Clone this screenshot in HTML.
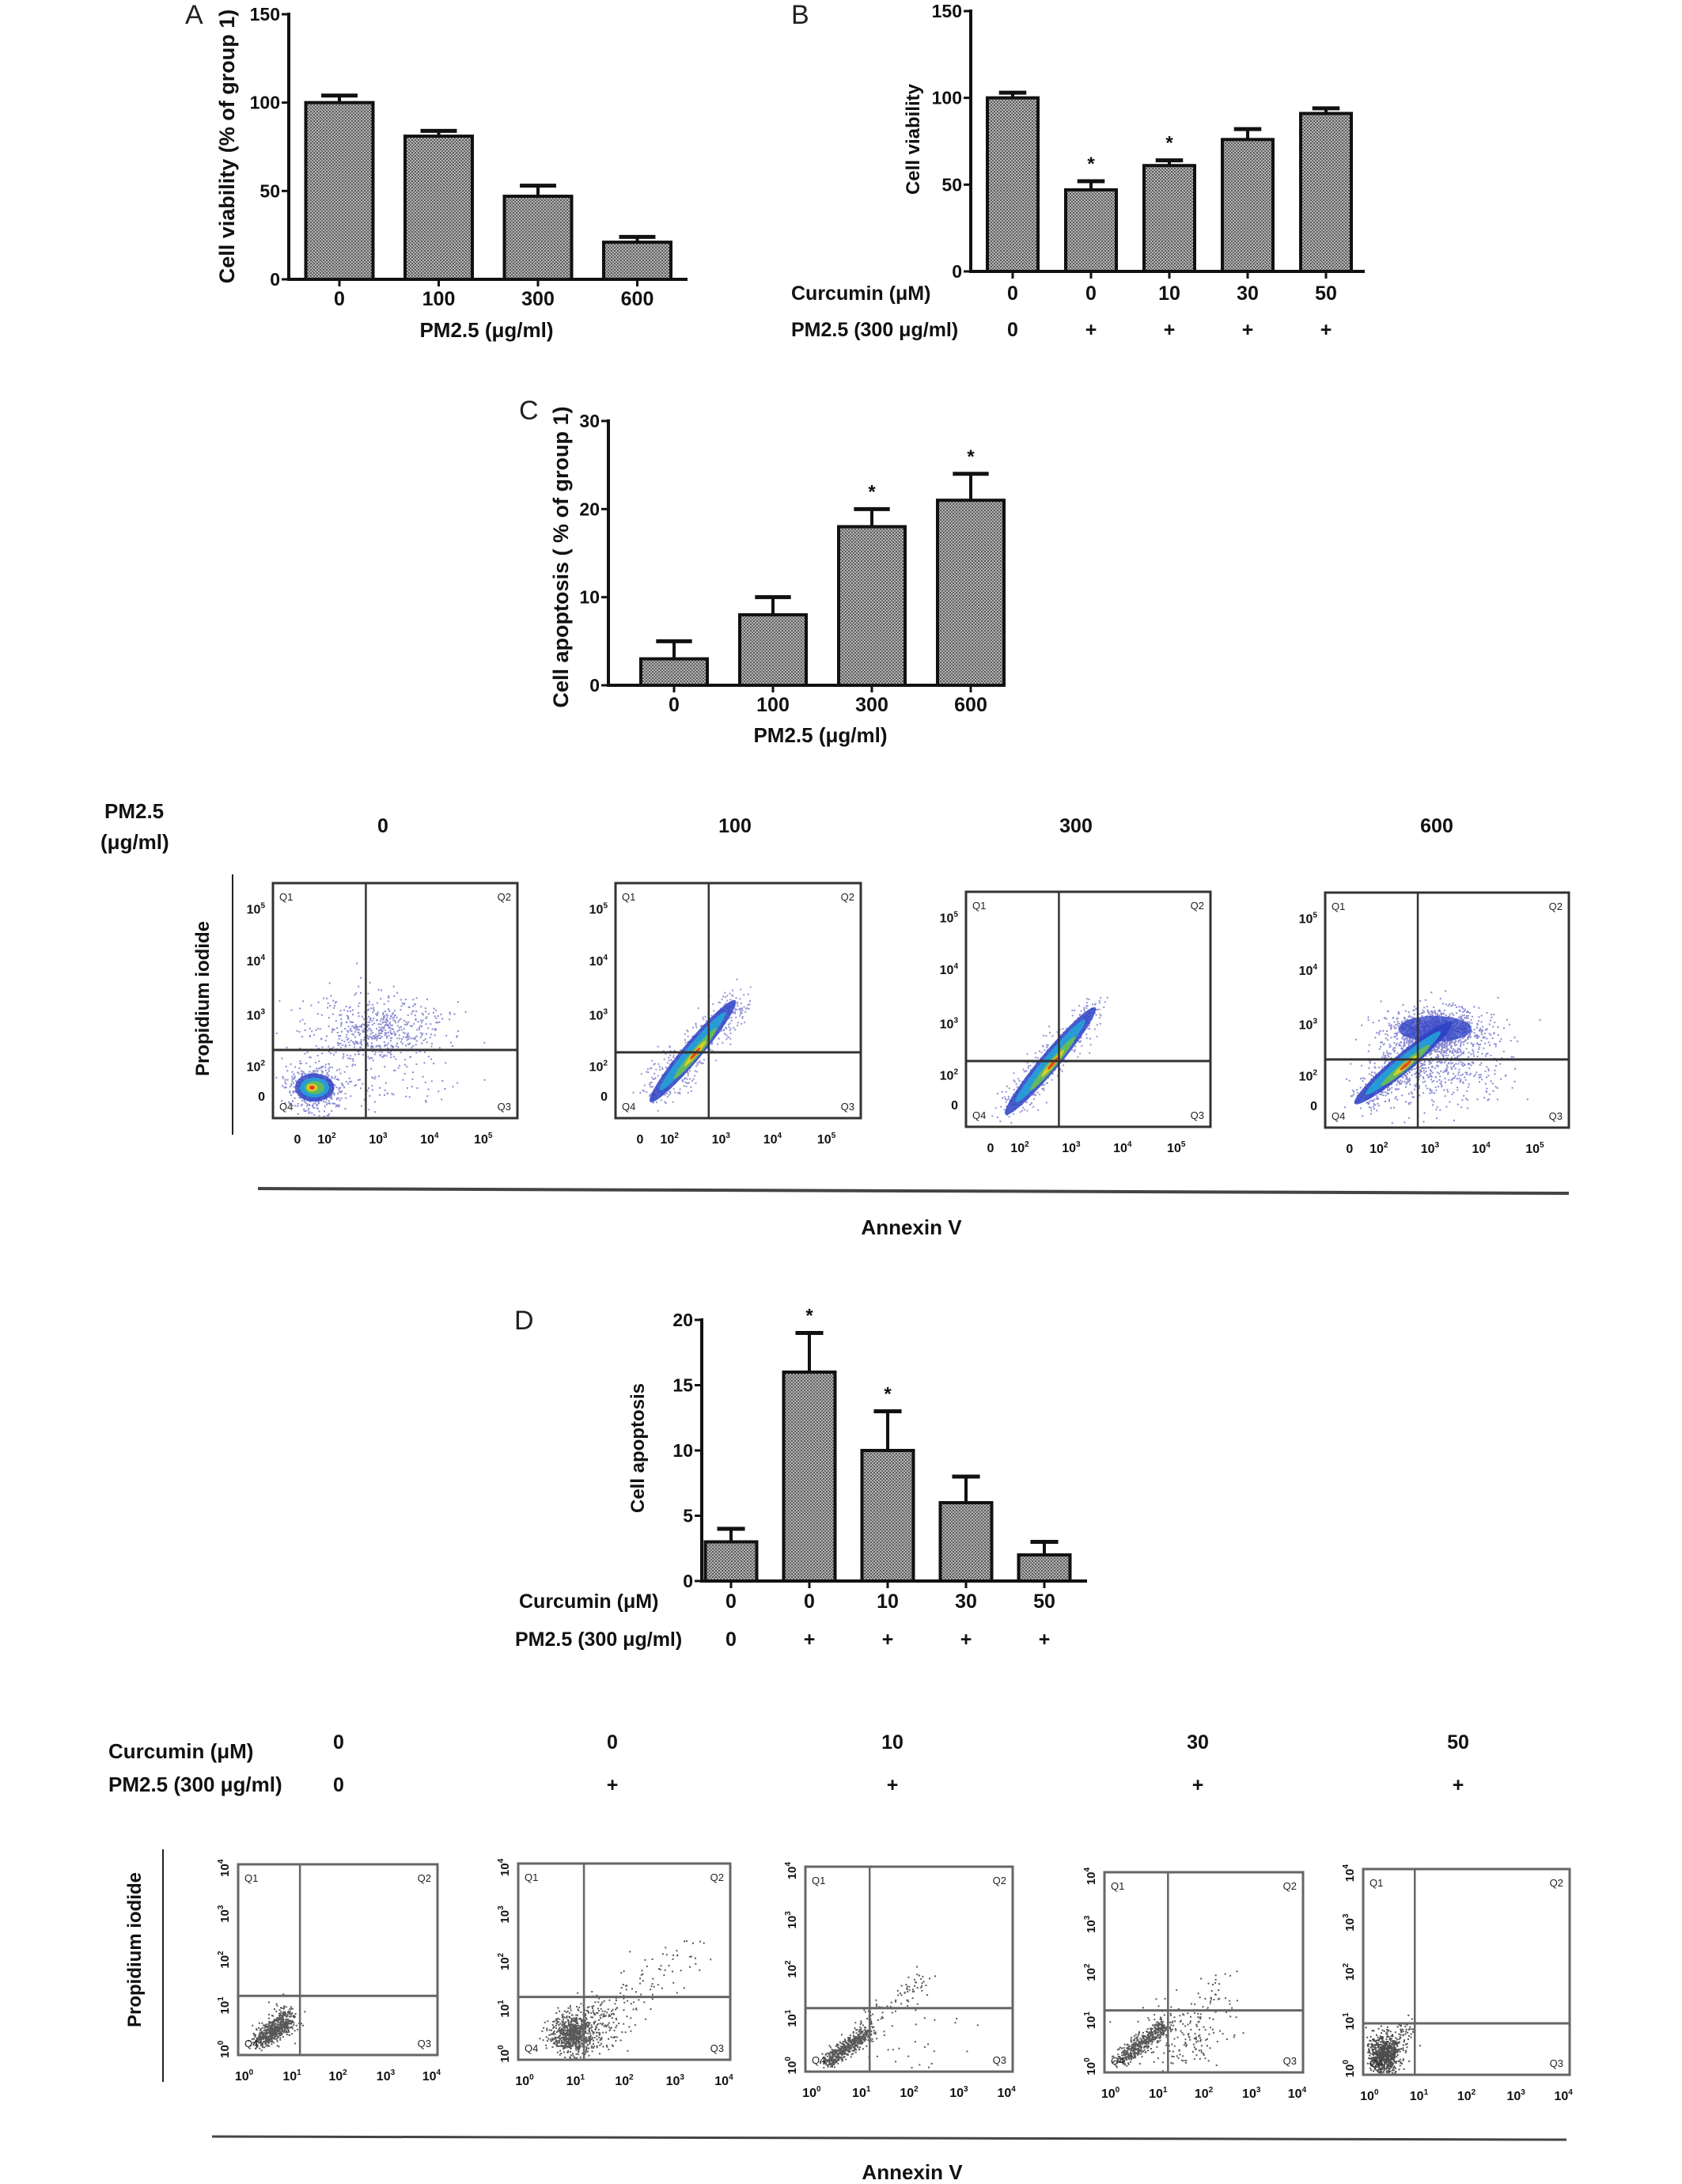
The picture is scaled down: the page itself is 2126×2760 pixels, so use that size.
<!DOCTYPE html>
<html><head><meta charset="utf-8">
<style>
html,body{margin:0;padding:0;background:#fff;}
svg{display:block;}
text{font-family:"Liberation Sans Narrow","Liberation Sans",sans-serif;font-weight:bold;fill:#111;}
.wide{font-family:"Liberation Sans",sans-serif;}
.lt{font-family:"Liberation Sans",sans-serif;font-weight:normal;fill:#222;}
</style></head>
<body>
<svg id="fig" width="2126" height="2760" viewBox="0 0 2126 2760" xmlns="http://www.w3.org/2000/svg">
<defs>
<pattern id="dots" width="4" height="4" patternUnits="userSpaceOnUse">
<rect width="4" height="4" fill="#b4b4b4"/>
<rect width="2" height="2" fill="#5a5a5a"/>
<rect x="2" y="2" width="2" height="2" fill="#6a6a6a"/>
</pattern>
</defs>
<g id="root"></g>
</svg>
<script>
// ---------- Chart data ----------
var aCategories = ["0","100","300","600"];
var aValues = [100, 81, 47, 21];
var aErrors = [4, 3, 6, 3];
var aStars = [false,false,false,false];
var aTicks = [0,50,100,150];

var bCurcumin = ["0","0","10","30","50"];
var bPM = ["0","+","+","+","+"];
var bValues = [100, 47, 61, 76, 91];
var bErrors = [3, 5, 3, 6, 3];
var bStars = [false,true,true,false,false];
var bTicks = [0,50,100,150];

var cCategories = ["0","100","300","600"];
var cValues = [3, 8, 18, 21];
var cErrors = [2, 2, 2, 3];
var cStars = [false,false,true,true];
var cTicks = [0,10,20,30];

var dCurcumin = ["0","0","10","30","50"];
var dPM = ["0","+","+","+","+"];
var dValues = [3, 16, 10, 6, 2];
var dErrors = [1, 3, 3, 2, 1];
var dStars = [false,true,true,false,false];
var dTicks = [0,5,10,15,20];

var flowDoses = ["0","100","300","600"];
var flow2Curcumin = ["0","0","10","30","50"];
var flow2PM = ["0","+","+","+","+"];

var NS = "http://www.w3.org/2000/svg";
var root = document.getElementById('root');
function el(tag, attrs, parent, txt){
  var e = document.createElementNS(NS, tag);
  for (var k in attrs) e.setAttribute(k, attrs[k]);
  if (txt !== undefined) e.textContent = txt;
  (parent||root).appendChild(e);
  return e;
}

function barChart(cfg){
  var g = el('g', {});
  
  
  var ymax = cfg.ticks[cfg.ticks.length-1];
  function Y(v){ return cfg.y0 - (cfg.y0 - cfg.yTop) * v / ymax; }
  for (var i=0;i<cfg.values.length;i++){
    var cx = cfg.x0 + cfg.firstOff + i*cfg.step;
    var top = Y(cfg.values[i]);
    var et = Y(cfg.values[i] + cfg.errors[i]);
    var ln = el('line', {x1:cx,y1:top,x2:cx,y2:et,stroke:'#111','stroke-width':4}, g);
    
    
    var cap = el('line', {x1:cx-cfg.bw*0.27,y1:et,x2:cx+cfg.bw*0.27,y2:et,stroke:'#111','stroke-width':5}, g);
    
    
    var r = el('rect', {x:cx-cfg.bw/2,y:top,width:cfg.bw,height:cfg.y0-top,fill:'url(#dots)',stroke:'#111','stroke-width':4}, g);
    
    
    var tk = el('line', {x1:cx,y1:cfg.y0,x2:cx,y2:cfg.y0+9,stroke:'#111','stroke-width':3}, g);
    
    
    if (cfg.stars[i]){
      var st = el('text', {x:cx,y:et-14,'text-anchor':'middle','font-size':24,'class':'wide'}, g, '*');
      
      
    }
    if (cfg.labels){
      var t = el('text', {x:cx,y:cfg.labelY,'text-anchor':'middle','font-size':25}, g, cfg.labels[i]);
      
      
    }
    if (cfg.row1){
      var t1 = el('text', {x:cx,y:cfg.row1Y,'text-anchor':'middle','font-size':25}, g, cfg.row1[i]);
      
      
      var t2 = el('text', {x:cx,y:cfg.row2Y,'text-anchor':'middle','font-size':25}, g, cfg.row2[i]);
      
      
    }
  }
  var ya = el('line', {x1:cfg.x0,y1:cfg.yTop-2,x2:cfg.x0,y2:cfg.y0+2,stroke:'#111','stroke-width':4}, g);
  
  
  var xa = el('line', {x1:cfg.x0-2,y1:cfg.y0,x2:cfg.xEnd,y2:cfg.y0,stroke:'#111','stroke-width':4}, g);
  
  
  for (var j=0;j<cfg.ticks.length;j++){
    var yy = Y(cfg.ticks[j]);
    var tl = el('line', {x1:cfg.x0-9,y1:yy,x2:cfg.x0,y2:yy,stroke:'#111','stroke-width':3}, g);
    
    
    var tt = el('text', {x:cfg.x0-11,y:yy+8,'text-anchor':'end','font-size':23}, g, String(cfg.ticks[j]));
    
    
  }
  var yt = el('text', {x:cfg.ylx,y:cfg.yly,'text-anchor':'middle','font-size':cfg.yfs||24,'class':'wide',transform:'rotate(-90 '+cfg.ylx+' '+cfg.yly+')'}, g, cfg.ytitle);
  
  
  if (cfg.xtitle){
    var xt = el('text', {x:cfg.xtx,y:cfg.xty,'text-anchor':'middle','font-size':26}, g, cfg.xtitle);
    
    
  }
  if (cfg.row1){
    var r1 = el('text', {x:cfg.rowLabelX,y:cfg.row1Y,'font-size':25}, g, 'Curcumin (μM)');
    
    
    var r2 = el('text', {x:cfg.rowLabelX2,y:cfg.row2Y,'font-size':25}, g, 'PM2.5 (300 μg/ml)');
    
    
  }
  var pl = el('text', {x:cfg.px,y:cfg.py,'font-size':34,'class':'lt'}, g, cfg.panel);
  
  
}

barChart({name:'chart-a',panel:'A',px:234,py:30,x0:365,y0:353,yTop:18,xEnd:869,firstOff:64,step:125.5,bw:85,
  values:aValues,errors:aErrors,stars:aStars,ticks:aTicks,labels:aCategories,labelY:386,yfs:27,
  ytitle:'Cell viability (% of group 1)',ylx:296,yly:185,xtitle:'PM2.5 (μg/ml)',xtx:615,xty:426});
barChart({name:'chart-b',panel:'B',px:1000,py:30,x0:1227,y0:343,yTop:14,xEnd:1725,firstOff:53,step:99,bw:64,
  values:bValues,errors:bErrors,stars:bStars,ticks:bTicks,row1:bCurcumin,row2:bPM,row1Y:379,row2Y:425,
  rowLabelX:1000,rowLabelX2:1000,ytitle:'Cell viability',ylx:1162,yly:176});
barChart({name:'chart-c',panel:'C',px:656,py:530,x0:769,y0:866,yTop:532,xEnd:1267,firstOff:83,step:125,bw:84,
  values:cValues,errors:cErrors,stars:cStars,ticks:cTicks,labels:cCategories,labelY:899,yfs:27,
  ytitle:'Cell apoptosis ( % of group 1)',ylx:718,yly:704,xtitle:'PM2.5 (μg/ml)',xtx:1037,xty:938});
barChart({name:'chart-d',panel:'D',px:650,py:1680,x0:887,y0:1998,yTop:1668,xEnd:1374,firstOff:37,step:99,bw:65,
  values:dValues,errors:dErrors,stars:dStars,ticks:dTicks,row1:dCurcumin,row2:dPM,row1Y:2032,row2Y:2080,
  rowLabelX:656,rowLabelX2:651,ytitle:'Cell apoptosis',ylx:814,yly:1830});

// ---------- Flow cytometry panels ----------
var seed = 12345;
function rnd(){ seed = (seed*1103515245 + 12345) % 2147483648; return seed/2147483648; }
function gauss(){ var u=rnd()||1e-6, v=rnd(); return Math.sqrt(-2*Math.log(u))*Math.cos(2*Math.PI*v); }

function flowPlot(cfg){
  var g = el('g', {});
  
  
  var x=cfg.x, y=cfg.y, w=cfg.w, h=cfg.h;
  var dg = el('g', {}, g);
  
  
  var path = '';
  cfg.clouds.forEach(function(c){
    for (var i=0;i<c.n;i++){
      var px, py;
      if (c.t==='line'){
        var t = rnd();
        px = c.x0 + (c.x1-c.x0)*t + gauss()*c.s;
        py = c.y0 + (c.y1-c.y0)*t + gauss()*c.s;
      } else {
        px = c.cx + gauss()*c.sx; py = c.cy + gauss()*c.sy;
      }
      if (px<0.01||px>0.99||py<0.01||py>0.99) continue;
      var X = x+px*w, Yv = y+py*h;
      path += 'M'+X.toFixed(1)+' '+Yv.toFixed(1)+'h2v2h-2z';
    }
  });
  el('path', {d:path, fill:cfg.dot, opacity:cfg.dotOp||0.8}, dg);
  (cfg.heat||[]).forEach(function(hh){
    var e = el('ellipse', {cx:x+hh.cx*w, cy:y+hh.cy*h, rx:hh.rx*w, ry:hh.ry*h, fill:hh.c, opacity:hh.o||0.9,
      transform:'rotate('+(hh.a||0)+' '+(x+hh.cx*w)+' '+(y+hh.cy*h)+')'}, g);
    
    
  });
  var box = el('rect', {x:x,y:y,width:w,height:h,fill:'none',stroke:cfg.boxc,'stroke-width':3}, g);
  
  
  var vx = x+cfg.qv*w, hy = y+cfg.qh*h;
  var vl = el('line', {x1:vx,y1:y,x2:vx,y2:y+h,stroke:cfg.boxc,'stroke-width':2.5}, g);
  
  
  var hl = el('line', {x1:x,y1:hy,x2:x+w,y2:hy,stroke:cfg.boxc,'stroke-width':3}, g);
  
  
  var q = [['Q1',x+8,y+22,'start'],['Q2',x+w-8,y+22,'end'],['Q4',x+8,y+h-10,'start'],['Q3',x+w-8,y+h-10,'end']];
  q.forEach(function(qq){
    var t = el('text', {x:qq[1],y:qq[2],'text-anchor':qq[3],'font-size':13,'class':'lt'}, g, qq[0]);
    
    
  });
  cfg.xt.forEach(function(tk){
    var tx = x+tk[0]*w;
    var t = el('text', {x:tx,y:y+h+32,'text-anchor':'middle','font-size':16,'class':'wide'}, g);
    
    
    appendLabel(t, tk[1]);
  });
  cfg.yt.forEach(function(tk){
    var ty = y+tk[0]*h;
    var t;
    if (cfg.rotY){
      t = el('text', {x:x-12,y:ty,'text-anchor':'middle','font-size':15,'class':'wide',transform:'rotate(-90 '+(x-12)+' '+ty+')'}, g);
    } else {
      t = el('text', {x:x-10,y:ty+6,'text-anchor':'end','font-size':16,'class':'wide'}, g);
    }
    
    
    appendLabel(t, tk[1]);
  });
}
function appendLabel(t, s){
  if (s==='0'){ t.textContent='0'; return; }
  var m = s.split('^');
  var a = document.createElementNS(NS,'tspan'); a.textContent=m[0]; t.appendChild(a);
  var b = document.createElementNS(NS,'tspan'); b.setAttribute('dy','-7'); b.setAttribute('font-size','10'); b.textContent=m[1]; t.appendChild(b);
}

var xt1 = [[0.10,'0'],[0.22,'10^2'],[0.43,'10^3'],[0.64,'10^4'],[0.86,'10^5']];
var yt1 = [[0.11,'10^5'],[0.33,'10^4'],[0.56,'10^3'],[0.78,'10^2'],[0.905,'0']];
function heatLine(x0,y0,x1,y1,a,len){
  var cx=(x0+x1)/2, cy=(y0+y1)/2;
  return [
    {cx:cx,cy:cy,rx:len*0.52,ry:0.04,c:'#2b3fc4',a:a,o:0.85},
    {cx:cx,cy:cy,rx:len*0.4,ry:0.026,c:'#22a7d8',a:a,o:0.85},
    {cx:cx+0.01,cy:cy+0.01,rx:len*0.26,ry:0.017,c:'#6cc04a',a:a,o:0.85},
    {cx:cx+0.01,cy:cy+0.01,rx:len*0.13,ry:0.01,c:'#f0d020',a:a,o:0.85},
    {cx:cx+0.01,cy:cy+0.01,rx:len*0.06,ry:0.007,c:'#e83018',a:a,o:0.85}
  ];
}
var blue = '#2a2ab0';
flowPlot({name:'flow-pm0',x:345,y:1116,w:309,h:297,qv:0.38,qh:0.71,boxc:'#333',dot:blue,dotOp:0.55,xt:xt1,yt:yt1,
  clouds:[{t:'blob',cx:0.17,cy:0.87,sx:0.06,sy:0.05,n:500},{t:'blob',cx:0.42,cy:0.62,sx:0.14,sy:0.07,n:600},{t:'blob',cx:0.45,cy:0.85,sx:0.15,sy:0.05,n:80}],
  heat:[{cx:0.17,cy:0.87,rx:0.08,ry:0.06,c:'#2b3fc4',o:0.8},{cx:0.17,cy:0.87,rx:0.06,ry:0.042,c:'#22a7d8',o:0.85},{cx:0.17,cy:0.87,rx:0.04,ry:0.028,c:'#6cc04a',o:0.85},{cx:0.16,cy:0.87,rx:0.022,ry:0.016,c:'#f0d020'},{cx:0.16,cy:0.87,rx:0.011,ry:0.009,c:'#e83018'}]});
flowPlot({name:'flow-pm100',x:778,y:1116,w:310,h:297,qv:0.38,qh:0.72,boxc:'#333',dot:blue,dotOp:0.5,xt:xt1,yt:yt1,
  clouds:[{t:'line',x0:0.15,y0:0.9,x1:0.5,y1:0.5,s:0.04,n:500}],
  heat:heatLine(0.15,0.9,0.48,0.53,-50,0.52)});
flowPlot({name:'flow-pm300',x:1221,y:1127,w:309,h:297,qv:0.38,qh:0.72,boxc:'#333',dot:blue,dotOp:0.5,xt:xt1,yt:yt1,
  clouds:[{t:'line',x0:0.17,y0:0.92,x1:0.52,y1:0.5,s:0.035,n:400}],
  heat:heatLine(0.17,0.92,0.52,0.52,-50,0.55)});
flowPlot({name:'flow-pm600',x:1675,y:1128,w:308,h:297,qv:0.38,qh:0.71,boxc:'#333',dot:blue,dotOp:0.55,xt:xt1,yt:yt1,
  clouds:[{t:'line',x0:0.16,y0:0.87,x1:0.48,y1:0.6,s:0.04,n:700},{t:'blob',cx:0.45,cy:0.58,sx:0.1,sy:0.045,n:900},{t:'blob',cx:0.48,cy:0.72,sx:0.14,sy:0.09,n:500}],
  heat:[{cx:0.45,cy:0.58,rx:0.15,ry:0.055,c:'#2b3fc4',o:0.75}].concat(heatLine(0.16,0.87,0.48,0.58,-40,0.5))});

var xt2 = [[0.03,'10^0'],[0.27,'10^1'],[0.5,'10^2'],[0.74,'10^3'],[0.97,'10^4']];
var yt2 = [[0.02,'10^4'],[0.26,'10^3'],[0.5,'10^2'],[0.74,'10^1'],[0.97,'10^0']];
var gr = '#666';
flowPlot({name:'flow-curcumin-control',x:301,y:2356,w:252,h:241,qv:0.31,qh:0.69,boxc:gr,dot:'#111',dotOp:0.7,xt:xt2,yt:yt2,rotY:true,
  clouds:[{t:'line',x0:0.1,y0:0.93,x1:0.25,y1:0.8,s:0.025,n:600},{t:'blob',cx:0.22,cy:0.82,sx:0.05,sy:0.05,n:60}]});
flowPlot({name:'flow-curcumin-0',x:655,y:2355,w:268,h:248,qv:0.31,qh:0.68,boxc:gr,dot:'#111',dotOp:0.7,xt:xt2,yt:yt2,rotY:true,
  clouds:[{t:'blob',cx:0.25,cy:0.87,sx:0.05,sy:0.05,n:700},{t:'blob',cx:0.35,cy:0.82,sx:0.08,sy:0.06,n:150},{t:'line',x0:0.3,y0:0.8,x1:0.85,y1:0.45,s:0.06,n:120}]});
flowPlot({name:'flow-curcumin-10',x:1018,y:2359,w:262,h:259,qv:0.31,qh:0.69,boxc:gr,dot:'#111',dotOp:0.7,xt:xt2,yt:yt2,rotY:true,
  clouds:[{t:'line',x0:0.1,y0:0.95,x1:0.3,y1:0.8,s:0.02,n:500},{t:'line',x0:0.25,y0:0.8,x1:0.58,y1:0.55,s:0.03,n:90},{t:'blob',cx:0.5,cy:0.85,sx:0.15,sy:0.08,n:25}]});
flowPlot({name:'flow-curcumin-30',x:1396,y:2366,w:251,h:253,qv:0.32,qh:0.69,boxc:gr,dot:'#111',dotOp:0.7,xt:xt2,yt:yt2,rotY:true,
  clouds:[{t:'line',x0:0.08,y0:0.93,x1:0.3,y1:0.76,s:0.02,n:500},{t:'blob',cx:0.4,cy:0.82,sx:0.12,sy:0.08,n:160},{t:'line',x0:0.35,y0:0.75,x1:0.65,y1:0.55,s:0.05,n:50}]});
flowPlot({name:'flow-curcumin-50',x:1723,y:2362,w:261,h:260,qv:0.25,qh:0.75,boxc:gr,dot:'#111',dotOp:0.75,xt:xt2,yt:yt2,rotY:true,
  clouds:[{t:'blob',cx:0.1,cy:0.9,sx:0.04,sy:0.05,n:700},{t:'line',x0:0.1,y0:0.9,x1:0.22,y1:0.75,s:0.03,n:100}]});

// ---------- text labels & divider lines ----------
function txt(name, x, y, s, size, anchor, cls, rot){
  var a = {x:x,y:y,'font-size':size,'text-anchor':anchor||'start'};
  if (cls) a['class']=cls;
  if (rot) a.transform='rotate(-90 '+x+' '+y+')';
  var t = el('text', a, root, s);
  
  
  return t;
}
function hline(name,x1,y1,x2,y2,c,wd){
  var l = el('line',{x1:x1,y1:y1,x2:x2,y2:y2,stroke:c,'stroke-width':wd});
  
  
}
txt('pm25-dose-heading',132,1034,'PM2.5',26);
txt('pm25-unit-heading',127,1073,'(μg/ml)',26);
var f1x = [484, 929, 1360, 1816];
for (var i=0;i<flowDoses.length;i++){ txt('dose-column-label', f1x[i], 1052, flowDoses[i], 25, 'middle'); }
hline('y-divider-row1',294,1105,294,1434,'#222',2);
txt('propidium-iodide-label-row1',264,1262,'Propidium iodide',24,'middle','wide',true);
hline('x-divider-row1',326,1502,1983,1508,'#444',4);
txt('annexin-v-label-row1',1152,1560,'Annexin V',26,'middle');

txt('curcumin-heading',137,2222,'Curcumin (μM)',26);
txt('pm25-300-heading',137,2264,'PM2.5 (300 μg/ml)',26);
var f2x = [428, 774, 1128, 1514, 1843];
for (var j=0;j<flow2Curcumin.length;j++){
  txt('curcumin-column-label', f2x[j], 2210, flow2Curcumin[j], 25, 'middle');
  txt('pm25-column-label', f2x[j], 2264, flow2PM[j], 25, 'middle');
}
hline('y-divider-row2',206,2337,206,2631,'#222',2);
txt('propidium-iodide-label-row2',178,2464,'Propidium iodide',24,'middle','wide',true);
hline('x-divider-row2',268,2700,1980,2704,'#444',3);
txt('annexin-v-label-row2',1153,2754,'Annexin V',26,'middle');
</script>
</body></html>
